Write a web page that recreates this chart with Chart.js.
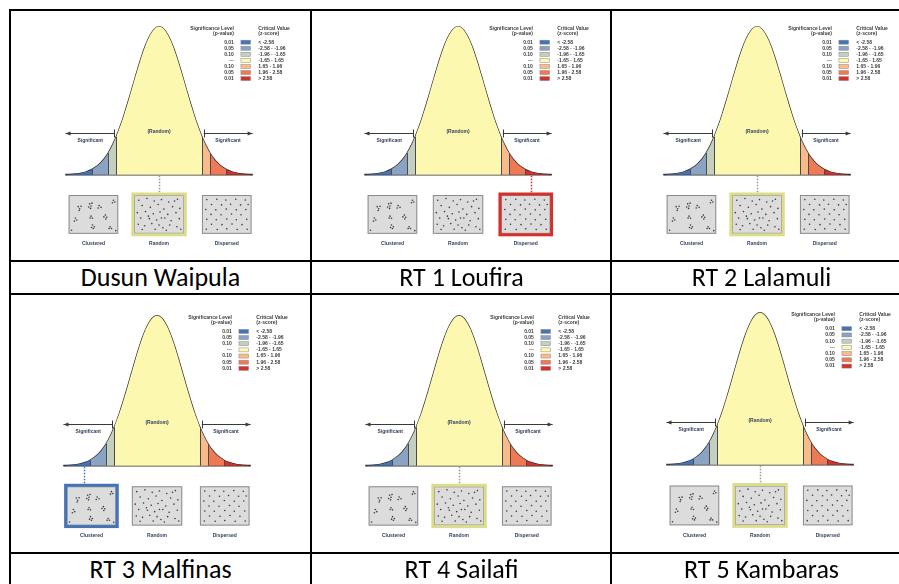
<!DOCTYPE html>
<html>
<head>
<meta charset="utf-8">
<script src="https://cdn.jsdelivr.net/npm/chart.js@4.4.0/dist/chart.umd.min.js"></script>
<style>
body { margin: 0; background: #fff; }
#page { position: relative; width: 899px; height: 584px; overflow: hidden; font-family: Carlito, Lato, sans-serif; }
.hl { position: absolute; background: #000; height: 2px; left: 9px; width: 900px; }
.vl { position: absolute; background: #000; width: 2px; top: 9px; height: 600px; }
.cap { position: absolute; width: 299px; text-align: center; font-size: 26px; line-height: 31px; color: #000; }
canvas { position: absolute; }
</style>
</head>
<body>
<div id="page">
  <div class="hl" style="top:9px"></div>
  <div class="hl" style="top:260px"></div>
  <div class="hl" style="top:293px"></div>
  <div class="hl" style="top:552px"></div>
  <div class="vl" style="left:9px"></div>
  <div class="vl" style="left:310px"></div>
  <div class="vl" style="left:610px"></div>
</div>
<script>
// normal curve (z-score, height with peak = 1)
var curveZ = [-3.6, -3.2, -3.0, -2.8, -2.58, -2.3, -2.1, -1.96, -1.8, -1.65, -1.45, -1.3, -1.15, -1.0, -0.85, -0.7, -0.55, -0.4, -0.2, 0,
              0.2, 0.4, 0.55, 0.7, 0.85, 1.0, 1.15, 1.3, 1.45, 1.65, 1.8, 1.96, 2.1, 2.3, 2.58, 2.8, 3.0, 3.2, 3.6];
var curveH = [0.0015, 0.006, 0.011, 0.020, 0.036, 0.071, 0.110, 0.146, 0.198, 0.256, 0.349, 0.430, 0.516, 0.607, 0.697, 0.783, 0.860, 0.923, 0.980, 1,
              0.980, 0.923, 0.860, 0.783, 0.697, 0.607, 0.516, 0.430, 0.349, 0.256, 0.198, 0.146, 0.110, 0.071, 0.036, 0.020, 0.011, 0.006, 0.0015];

// critical value breaks and legend
var zBreaks = [-3.6, -2.58, -1.96, -1.65, 1.65, 1.96, 2.58, 3.6];
var pLevels = ['0.01', '0.05', '0.10', '---', '0.10', '0.05', '0.01'];
var zRanges = ['< -2.58', '-2.58 - -1.96', '-1.96 - -1.65', '-1.65 - 1.65', '1.65 - 1.96', '1.96 - 2.58', '> 2.58'];
var bandColors = ['#4574b4', '#8ba3c3', '#c4cfc0', '#fcf8b0', '#f9bb89', '#ee7a55', '#d7302a'];

// panels and the z-score each one points at
var panelNames = ['Dusun Waipula', 'RT 1 Loufira', 'RT 2 Lalamuli', 'RT 3 Malfinas', 'RT 4 Sailafi', 'RT 5 Kambaras'];
var panelZ = [0, 2.8, 0, -2.8, 0, 0];

// point pattern thumbnails
var patternNames = ['Clustered', 'Random', 'Dispersed'];
var clusteredDots = [[0.18,0.28],[0.21,0.34],[0.24,0.27],[0.2,0.39],[0.42,0.2],[0.45,0.26],[0.4,0.29],[0.47,0.18],[0.44,0.33],
  [0.62,0.25],[0.66,0.3],[0.6,0.32],[0.92,0.1],[0.95,0.15],[0.9,0.17],[0.12,0.6],[0.15,0.66],[0.1,0.69],
  [0.45,0.55],[0.48,0.61],[0.43,0.6],[0.75,0.52],[0.78,0.58],[0.72,0.57],[0.76,0.63],[0.48,0.8],[0.52,0.85],
  [0.46,0.87],[0.5,0.9],[0.85,0.85],[0.88,0.9],[0.83,0.9],[0.04,0.95],[0.97,0.96]];
var randomDots = [[0.08,0.1],[0.25,0.05],[0.4,0.12],[0.55,0.08],[0.7,0.15],[0.88,0.07],[0.15,0.25],[0.32,0.3],[0.48,0.22],
  [0.6,0.35],[0.78,0.28],[0.93,0.33],[0.05,0.45],[0.22,0.42],[0.38,0.48],[0.52,0.43],[0.68,0.5],[0.85,0.45],
  [0.12,0.6],[0.3,0.62],[0.45,0.66],[0.62,0.6],[0.75,0.68],[0.92,0.62],[0.07,0.78],[0.2,0.82],[0.35,0.76],
  [0.5,0.8],[0.58,0.88],[0.72,0.8],[0.87,0.85],[0.15,0.93],[0.42,0.92],[0.65,0.95],[0.95,0.92],[0.28,0.55],[0.82,0.12],[0.55,0.6]];
var dispersedDots = [[0.08,0.08],[0.29,0.07],[0.48,0.09],[0.69,0.07],[0.89,0.09],[0.18,0.22],[0.39,0.23],[0.58,0.21],[0.79,0.23],[0.95,0.22],
  [0.06,0.36],[0.27,0.37],[0.49,0.35],[0.7,0.37],[0.9,0.36],[0.17,0.5],[0.38,0.51],[0.6,0.49],[0.8,0.51],
  [0.08,0.64],[0.28,0.65],[0.5,0.63],[0.7,0.65],[0.92,0.64],[0.18,0.78],[0.4,0.79],[0.61,0.77],[0.82,0.79],
  [0.07,0.92],[0.3,0.93],[0.5,0.91],[0.72,0.93],[0.93,0.92]];
var patternDots = [clusteredDots, randomDots, dispersedDots];

// layout of each panel on the page (curve centre, baseline, px per unit)
var panelCx = [159, 458, 757, 157, 459, 760];
var panelBase = [176, 176, 176, 467, 467, 466];
var panelScale = [153, 153, 153, 155, 155, 157];
var zPx = 26.7;
var boxZ = [[-3.48, -1.57], [-0.97, 0.97], [1.65, 3.56]];
var boxTop = -0.137, boxBottom = -0.399;

function bandOf(z) {
  for (var i = 0; i < bandColors.length; i++) {
    if (z < zBreaks[i + 1]) return i;
  }
  return bandColors.length - 1;
}

function heightAt(z) {
  return curveH[curveZ.indexOf(z)];
}

var decor = {
  id: 'decor',
  beforeDatasetsDraw: function(chart) {
    var ctx = chart.ctx, x = chart.scales.x, y = chart.scales.y;
    ctx.save();
    boxZ.forEach(function(b) {
      var x0 = x.getPixelForValue(b[0]), x1 = x.getPixelForValue(b[1]);
      var y0 = y.getPixelForValue(boxTop), y1 = y.getPixelForValue(boxBottom);
      ctx.fillStyle = '#dcdcdc';
      ctx.fillRect(x0, y0, x1 - x0, y1 - y0);
      ctx.strokeStyle = '#8c8c8c';
      ctx.lineWidth = 1;
      ctx.strokeRect(x0 + 0.5, y0 + 0.5, x1 - x0 - 1, y1 - y0 - 1);
    });
    ctx.restore();
  },
  afterDatasetsDraw: function(chart) {
    var o = chart.options.plugins.decor;
    var ctx = chart.ctx, x = chart.scales.x, y = chart.scales.y;
    var px = function(v) { return x.getPixelForValue(v); };
    var py = function(v) { return y.getPixelForValue(v); };
    ctx.save();

    // separators between bands
    ctx.strokeStyle = '#4a4a4a';
    ctx.lineWidth = 1;
    for (var i = 1; i < zBreaks.length - 1; i++) {
      var bx = Math.round(px(zBreaks[i])) + 0.5;
      ctx.beginPath();
      ctx.moveTo(bx, py(0));
      ctx.lineTo(bx, py(heightAt(zBreaks[i])));
      ctx.stroke();
    }

    // significance arrows
    ctx.strokeStyle = '#3a3a3a';
    ctx.fillStyle = '#3a3a3a';
    var ay = Math.round(py(0.281)) + 0.5;
    [-1, 1].forEach(function(s) {
      var inner = px(s * 1.72), outer = px(s * 3.6);
      ctx.beginPath();
      ctx.moveTo(inner, ay); ctx.lineTo(outer, ay);
      ctx.moveTo(Math.round(inner) + 0.5, ay - 4); ctx.lineTo(Math.round(inner) + 0.5, ay + 4);
      ctx.stroke();
      ctx.beginPath();
      ctx.moveTo(outer, ay);
      ctx.lineTo(outer - s * 5, ay - 2);
      ctx.lineTo(outer - s * 5, ay + 2);
      ctx.closePath();
      ctx.fill();
    });

    ctx.fillStyle = '#34405e';
    ctx.font = 'bold 5px "Liberation Sans"';
    ctx.textAlign = 'center';
    ctx.textBaseline = 'middle';
    ctx.fillText('Significant', px(-2.65), py(0.229));
    ctx.fillText('Significant', px(2.65), py(0.229));
    ctx.fillText('(Random)', px(0), py(0.288));

    // legend
    var lx = px(2.88), sx0 = px(3.15), sx1 = px(3.52), tx = px(3.82);
    ctx.fillStyle = '#3c3c3c';
    ctx.textAlign = 'right';
    ctx.fillText('Significance Level', lx, py(0.985));
    ctx.fillText('(p-value)', lx, py(0.952));
    ctx.textAlign = 'left';
    ctx.fillText('Critical Value', tx, py(0.985));
    ctx.fillText('(z-score)', tx, py(0.952));
    for (var r = 0; r < pLevels.length; r++) {
      var ry = py(0.895 - r * 0.041);
      ctx.fillStyle = '#3c3c3c';
      ctx.textAlign = 'right';
      ctx.fillText(pLevels[r], lx, ry);
      ctx.textAlign = 'left';
      ctx.fillText(zRanges[r], tx, ry);
      ctx.fillStyle = bandColors[r];
      ctx.fillRect(sx0, ry - 2, sx1 - sx0, 4);
      ctx.strokeStyle = '#888';
      ctx.lineWidth = 0.5;
      ctx.strokeRect(sx0, ry - 2, sx1 - sx0, 4);
    }

    // pattern labels
    ctx.fillStyle = '#34405e';
    ctx.textAlign = 'center';
    boxZ.forEach(function(b, k) {
      ctx.fillText(patternNames[k], px((b[0] + b[1]) / 2), py(-0.464));
    });

    // marker from the z-score down to its pattern
    var z = o.z, band = bandOf(z);
    var k = z < -1.65 ? 0 : (z > 1.65 ? 2 : 1);
    var hl = k === 1 ? '#dcdc8c' : bandColors[band];
    var mx = Math.round(px(z)) + 0.5;
    ctx.strokeStyle = k === 1 ? '#999' : hl;
    ctx.lineWidth = 1.5;
    ctx.setLineDash([1.5, 1.5]);
    ctx.beginPath();
    ctx.moveTo(mx, py(0) + 1);
    ctx.lineTo(mx, py(boxTop));
    ctx.stroke();
    ctx.setLineDash([]);
    var b = boxZ[k];
    ctx.strokeStyle = hl;
    ctx.lineWidth = 3;
    ctx.strokeRect(px(b[0]) - 1, py(boxTop) - 1, px(b[1]) - px(b[0]) + 2, py(boxBottom) - py(boxTop) + 2);
    ctx.restore();
  }
};

function makePanel(i) {
  var w = 300, h = 250;
  var cv = document.createElement('canvas');
  cv.width = w; cv.height = h;
  cv.style.left = (panelCx[i] - 148) + 'px';
  cv.style.top = (panelBase[i] - 165) + 'px';
  document.getElementById('page').appendChild(cv);

  var cap = document.createElement('div');
  cap.className = 'cap';
  var col = i % 3, row = Math.floor(i / 3);
  cap.style.left = [11, 312, 612][col] + 'px';
  cap.style.top = [262, 554][row] + 'px';
  cap.textContent = panelNames[i];
  document.getElementById('page').appendChild(cap);

  var pts = curveZ.map(function(z, j) { return { x: z, y: curveH[j] }; });
  var datasets = [];
  for (var b = 0; b < bandColors.length; b++) {
    datasets.push({
      data: pts.filter(function(p) { return p.x >= zBreaks[b] && p.x <= zBreaks[b + 1]; }),
      backgroundColor: bandColors[b],
      borderWidth: 0,
      fill: 'origin',
      pointRadius: 0,
      cubicInterpolationMode: 'monotone'
    });
  }
  datasets.push({
    data: pts,
    borderColor: '#262626',
    borderWidth: 1.3,
    fill: false,
    pointRadius: 0,
    cubicInterpolationMode: 'monotone'
  });
  datasets.push({
    data: [{ x: curveZ[0], y: 0 }, { x: curveZ[curveZ.length - 1], y: 0 }],
    borderColor: '#333',
    borderWidth: 1.5,
    fill: false,
    pointRadius: 0
  });
  patternDots.forEach(function(dots, k) {
    var bz = boxZ[k];
    datasets.push({
      type: 'scatter',
      data: dots.map(function(d) {
        return { x: bz[0] + 0.04 + d[0] * (bz[1] - bz[0] - 0.08), y: boxTop - 0.012 - d[1] * (boxTop - boxBottom - 0.024) };
      }),
      backgroundColor: '#3a3a3a',
      borderWidth: 0,
      pointRadius: 0.8
    });
  });

  var k = panelScale[i];
  new Chart(cv, {
    type: 'line',
    data: { datasets: datasets },
    options: {
      responsive: false,
      animation: false,
      layout: { padding: 0 },
      scales: {
        x: { type: 'linear', min: -148 / zPx, max: (w - 148) / zPx, display: false },
        y: { min: -(h - 165) / k, max: 165 / k, display: false }
      },
      plugins: {
        legend: { display: false },
        tooltip: { enabled: false },
        decor: { z: panelZ[i] }
      }
    },
    plugins: [decor]
  });
}

for (var i = 0; i < panelNames.length; i++) makePanel(i);
</script>
</body>
</html>
